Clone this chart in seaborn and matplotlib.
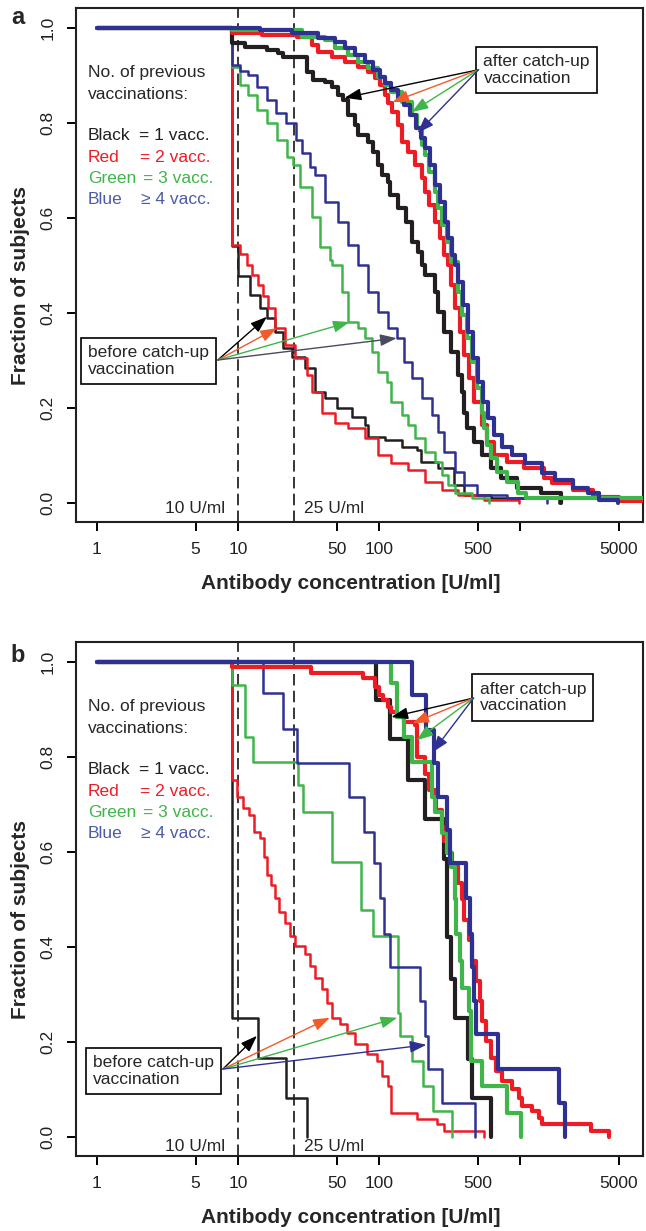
import matplotlib
matplotlib.use("Agg")
import matplotlib.pyplot as plt
from matplotlib.ticker import NullLocator
import pandas as pd
import seaborn as sns

# step curves: concentration (U/ml) where a level starts, fraction of subjects above it
# panel a
a_pre_black_x = [1, 9, 10, 12.1, 14.2, 15.9, 18.2, 20.7, 23.9, 29.6, 34.8, 41, 50.6, 63.7, 78.8, 82.6,
                 109, 144, 186, 199, 259, 340, 400, 623, 1890]
a_pre_black_y = [1.0, 0.54, 0.478, 0.438, 0.41, 0.389, 0.36, 0.326, 0.307, 0.284, 0.234, 0.221, 0.2, 0.181,
                 0.164, 0.139, 0.133, 0.118, 0.112, 0.086, 0.074, 0.038, 0.017, 0.01, 0.0]
a_pre_red_x = [1, 9, 10.3, 11.5, 12.5, 13.8, 15.0, 16.2, 18.2, 21.4, 25.2, 30.6, 33.2, 39.1, 48.3, 59.7,
               78.8, 97.5, 122, 159, 210, 277, 359, 557, 986]
a_pre_red_y = [1.0, 0.543, 0.524, 0.50, 0.48, 0.459, 0.435, 0.41, 0.368, 0.333, 0.305, 0.269, 0.234, 0.19,
               0.168, 0.158, 0.137, 0.101, 0.084, 0.069, 0.044, 0.027, 0.017, 0.006, 0.0]
a_pre_green_x = [1, 9, 10.3, 11.7, 13.6, 16.0, 18.8, 22.1, 24.4, 27.3, 33.2, 37.9, 44.6, 46, 54.2, 59.7,
                 70.3, 78.8, 88.3, 97.5, 113, 122, 144, 159, 178, 210, 247, 277, 305, 342, 451, 604]
a_pre_green_y = [1.0, 0.918, 0.88, 0.859, 0.827, 0.80, 0.764, 0.728, 0.712, 0.665, 0.602, 0.539, 0.512, 0.50,
                 0.444, 0.381, 0.368, 0.347, 0.318, 0.276, 0.255, 0.213, 0.185, 0.164, 0.137, 0.107, 0.086,
                 0.059, 0.038, 0.021, 0.01, 0.0]
a_pre_blue_x = [1, 9, 10.3, 11.8, 13.6, 15.9, 18.6, 21.9, 25.6, 28.2, 32.2, 34.9, 41, 50.8, 59.7, 70.3,
                82.8, 97.5, 115, 133, 151, 170, 200, 235, 259, 290, 342, 402, 497, 810, 1555]
a_pre_blue_y = [1.0, 0.922, 0.91, 0.90, 0.876, 0.848, 0.821, 0.80, 0.764, 0.737, 0.707, 0.69, 0.634, 0.592,
                0.543, 0.50, 0.444, 0.402, 0.368, 0.347, 0.297, 0.263, 0.221, 0.185, 0.149, 0.107, 0.065,
                0.038, 0.017, 0.01, 0.0]
a_post_black_x = [1, 9, 11.2, 16, 19.1, 20.7, 30.6, 34, 41, 46, 50.8, 55.1, 59.7, 67, 70.3, 82.8, 89.8,
                  97.5, 104, 115, 119, 135, 156, 170, 187, 200, 210, 247, 259, 290, 325, 359, 383, 402,
                  422, 473, 531, 624, 735, 953, 1410, 1950]
a_post_black_y = [1.0, 0.968, 0.96, 0.954, 0.947, 0.939, 0.907, 0.89, 0.886, 0.876, 0.859, 0.848, 0.817,
                  0.796, 0.775, 0.76, 0.739, 0.712, 0.69, 0.676, 0.648, 0.621, 0.592, 0.549, 0.528, 0.50,
                  0.48, 0.444, 0.402, 0.36, 0.318, 0.269, 0.234, 0.19, 0.158, 0.128, 0.101, 0.074, 0.053,
                  0.032, 0.021, 0.0]
a_post_red_x = [1, 9, 14.7, 26, 33.2, 36.6, 46, 56.9, 70.3, 82.8, 92.7, 101, 109, 115, 124, 135, 146, 159,
                178, 200, 210, 227, 247, 268, 290, 305, 325, 342, 371, 402, 436, 473, 531, 585, 651, 810,
                1070, 1480, 1690, 2350, 3270, 5030, 9000]
a_post_red_y = [1.0, 0.989, 0.985, 0.981, 0.964, 0.949, 0.939, 0.928, 0.918, 0.907, 0.895, 0.88, 0.859,
                0.842, 0.823, 0.796, 0.76, 0.739, 0.712, 0.684, 0.655, 0.627, 0.592, 0.558, 0.522, 0.50,
                0.459, 0.41, 0.36, 0.312, 0.263, 0.213, 0.164, 0.128, 0.101, 0.086, 0.074, 0.053, 0.042,
                0.027, 0.013, 0.004, 0.004]
a_post_green_x = [1, 9, 28.2, 41, 48.3, 59.7, 70.3, 82.8, 97.5, 109, 122, 144, 170, 184, 200, 210, 227,
                  247, 259, 280, 300, 325, 359, 388, 422, 458, 497, 531, 557, 585, 624, 686, 810, 960,
                  1100, 9000]
a_post_green_y = [1.0, 0.996, 0.981, 0.975, 0.958, 0.943, 0.928, 0.916, 0.897, 0.88, 0.865, 0.844, 0.817,
                  0.789, 0.754, 0.733, 0.697, 0.655, 0.621, 0.585, 0.549, 0.507, 0.444, 0.396, 0.347,
                  0.297, 0.242, 0.19, 0.158, 0.122, 0.095, 0.065, 0.044, 0.02, 0.01, 0.01]
a_post_blue_x = [1, 14.2, 23.9, 36.6, 48.3, 56.9, 67, 78.8, 89.8, 101, 109, 122, 135, 151, 166, 182, 197,
                 212, 229, 249, 270, 292, 307, 327, 344, 361, 390, 424, 460, 500, 540, 590, 655, 740, 870,
                 1080, 1420, 1750, 2350, 3000, 3600, 4900]
a_post_blue_y = [1.0, 0.996, 0.989, 0.979, 0.97, 0.958, 0.943, 0.928, 0.912, 0.897, 0.884, 0.869, 0.853,
                 0.838, 0.817, 0.789, 0.768, 0.747, 0.712, 0.669, 0.634, 0.592, 0.558, 0.522, 0.50, 0.465,
                 0.417, 0.36, 0.305, 0.255, 0.213, 0.179, 0.143, 0.118, 0.101, 0.084, 0.063, 0.048, 0.032,
                 0.021, 0.006, 0.0]

# panel b
b_pre_black_x = [1, 9, 13.8, 21.8, 30.6]
b_pre_black_y = [1.0, 0.251, 0.167, 0.082, 0.0]
b_pre_red_x = [1, 9, 9.9, 10.8, 12.0, 12.9, 14.2, 15.2, 15.9, 17.2, 18.2, 19.5, 21.4, 23.2, 25.2, 29.6,
               32.2, 34.9, 39.1, 42.4, 46, 52.5, 58.8, 67, 81.4, 95.9, 104, 115, 122, 184, 255, 290, 557]
b_pre_red_y = [1.0, 0.751, 0.715, 0.692, 0.677, 0.641, 0.629, 0.589, 0.551, 0.53, 0.504, 0.473, 0.451,
               0.424, 0.403, 0.386, 0.361, 0.335, 0.312, 0.283, 0.251, 0.238, 0.219, 0.196, 0.175, 0.160,
               0.129, 0.108, 0.051, 0.038, 0.027, 0.013, 0.0]
b_pre_green_x = [1, 9, 11.2, 12.8, 26.5, 28.7, 46, 73.9, 89.8, 136, 141, 170, 203, 239, 330]
b_pre_green_y = [1.0, 0.951, 0.842, 0.789, 0.741, 0.684, 0.578, 0.477, 0.424, 0.262, 0.213, 0.160, 0.108,
                 0.055, 0.0]
b_pre_blue_x = [1, 15.0, 20.7, 26, 60.7, 78.2, 91.2, 101, 108, 119, 193, 210, 220, 277, 481]
b_pre_blue_y = [1.0, 0.935, 0.859, 0.787, 0.715, 0.641, 0.576, 0.503, 0.428, 0.357, 0.287, 0.213, 0.143,
                0.072, 0.0]
b_post_black_x = [1, 94.3, 120, 159, 210, 290, 303, 325, 342, 429, 458, 624]
b_post_black_y = [1.0, 0.920, 0.837, 0.751, 0.669, 0.586, 0.42, 0.333, 0.251, 0.165, 0.082, 0.0]
b_post_red_x = [1, 9, 32.7, 76.3, 92.8, 99, 106, 115, 122, 133, 151, 178, 184, 210, 227, 254, 277, 290,
                305, 330, 359, 383, 402, 436, 458, 489, 514, 538, 573, 624, 675, 744, 876, 985, 1035,
                1200, 1365, 1430, 3160, 4270]
b_post_red_y = [1.0, 0.989, 0.977, 0.966, 0.947, 0.93, 0.920, 0.905, 0.895, 0.884, 0.873, 0.867, 0.80,
                0.765, 0.73, 0.688, 0.652, 0.624, 0.597, 0.57, 0.534, 0.50, 0.456, 0.414, 0.371, 0.329,
                0.287, 0.245, 0.203, 0.167, 0.139, 0.118, 0.101, 0.082, 0.065, 0.055, 0.04, 0.027, 0.013,
                0.0]
b_post_green_x = [1, 122, 133, 151, 170, 235, 247, 277, 300, 325, 342, 352, 371, 388, 436, 450, 531, 804,
                  1018]
b_post_green_y = [1.0, 0.956, 0.884, 0.842, 0.789, 0.715, 0.684, 0.639, 0.597, 0.568, 0.50, 0.428, 0.371,
                  0.314, 0.266, 0.160, 0.108, 0.051, 0.0]
b_post_blue_x = [1, 172, 213, 243, 263, 300, 315, 415, 443, 455, 466, 489, 689, 1890, 2085]
b_post_blue_y = [1.0, 0.930, 0.857, 0.787, 0.715, 0.646, 0.576, 0.504, 0.428, 0.357, 0.287, 0.217, 0.143,
                 0.072, 0.0]

# arrow targets of the "after"/"before" callouts and where the arrows start
a_after_tip_x = [56.9, 124, 170, 187]
a_after_tip_y = [0.853, 0.844, 0.823, 0.779]
a_after_from = (505, 0.912)
a_before_tip_x = [16, 18.8, 61.7, 133]
a_before_tip_y = [0.392, 0.368, 0.381, 0.347]
a_before_from = (7.18, 0.301)
b_after_tip_x = [122, 172, 184, 239]
b_after_tip_y = [0.884, 0.871, 0.835, 0.81]
b_after_from = (466, 0.924)
b_before_tip_x = [13.6, 44.6, 134, 216]
b_before_tip_y = [0.213, 0.251, 0.251, 0.194]
b_before_from = (7.8, 0.143)

thresholds = [10, 25]
threshold_labels = ["10 U/ml", "25 U/ml"]
x_ticks = [1, 5, 10, 50, 100, 500, 1000, 5000]
x_tick_labels = ["1", "5", "10", "50", "100", "500", "", "5000"]
y_ticks = [0.0, 0.2, 0.4, 0.6, 0.8, 1.0]

groups = ["black", "red", "green", "blue"]
legend_names = ["Black", "Red", "Green", "Blue"]
legend_rest = ["= 1 vacc.", "= 2 vacc.", "= 3 vacc.", "\u2265 4 vacc."]

LINE_COLORS = {"black": "#231f20", "red": "#ed1c24", "green": "#3fb54a", "blue": "#2e3192"}
TEXT_COLORS = ["#231f20", "#ed1c24", "#3fb54a", "#4d5ba6"]
ARROW_COLORS = ["#000000", "#f15a29", "#3fb54a", "#2e3192"]
LW = {"before": 1.8, "after": 3.0}
FS = 12.5

curves = {
    ("a", "before", "black"): (a_pre_black_x, a_pre_black_y),
    ("a", "before", "red"): (a_pre_red_x, a_pre_red_y),
    ("a", "before", "green"): (a_pre_green_x, a_pre_green_y),
    ("a", "before", "blue"): (a_pre_blue_x, a_pre_blue_y),
    ("a", "after", "black"): (a_post_black_x, a_post_black_y),
    ("a", "after", "red"): (a_post_red_x, a_post_red_y),
    ("a", "after", "green"): (a_post_green_x, a_post_green_y),
    ("a", "after", "blue"): (a_post_blue_x, a_post_blue_y),
    ("b", "before", "black"): (b_pre_black_x, b_pre_black_y),
    ("b", "before", "red"): (b_pre_red_x, b_pre_red_y),
    ("b", "before", "green"): (b_pre_green_x, b_pre_green_y),
    ("b", "before", "blue"): (b_pre_blue_x, b_pre_blue_y),
    ("b", "after", "black"): (b_post_black_x, b_post_black_y),
    ("b", "after", "red"): (b_post_red_x, b_post_red_y),
    ("b", "after", "green"): (b_post_green_x, b_post_green_y),
    ("b", "after", "blue"): (b_post_blue_x, b_post_blue_y),
}

rows = []
for (panel, phase, group), (xs, ys) in curves.items():
    for x, y in zip(xs, ys):
        rows.append({"panel": panel, "phase": phase, "group": group, "conc": x, "frac": y})
df = pd.DataFrame(rows)

sns.set_theme(style="ticks")
plt.rcParams["font.family"] = ["Liberation Sans", "DejaVu Sans"]


def callout(ax, text, text_pos, origin, tip_x, tip_y, colors):
    ax.text(text_pos[0], text_pos[1], text, ha="left", va="center", fontsize=FS,
            linespacing=1.15, zorder=6,
            bbox=dict(boxstyle="square,pad=0.42", fc="white", ec="black", lw=1.2))
    for tx, ty, c in zip(tip_x, tip_y, colors):
        ax.annotate("", xy=(tx, ty), xytext=origin, zorder=7,
                    arrowprops=dict(arrowstyle="-|>,head_length=0.5,head_width=0.18",
                                    color=c, lw=1.0, shrinkA=0, shrinkB=0, mutation_scale=20))


def draw_panel(ax, panel, after, before, txt_y, before_colors):
    ax.set_xscale("log")
    for phase in ["before", "after"]:
        for group in groups:
            sub = df[(df.panel == panel) & (df.phase == phase) & (df.group == group)]
            sns.lineplot(data=sub, x="conc", y="frac", ax=ax, color=LINE_COLORS[group],
                         lw=LW[phase], drawstyle="steps-post", estimator=None, sort=False,
                         legend=False, zorder=3)
    for t in thresholds:
        ax.axvline(t, color="black", lw=1.1, ls=(0, (7.5, 3.5)), zorder=2)
    ax.annotate(threshold_labels[0], xy=(thresholds[0], txt_y), xytext=(-9, 0),
                textcoords="offset points", ha="right", va="center", fontsize=FS)
    ax.annotate(threshold_labels[1], xy=(thresholds[1], txt_y), xytext=(7, 0),
                textcoords="offset points", ha="left", va="center", fontsize=FS)

    callout(ax, "after catch-up\nvaccination", *after, ARROW_COLORS)
    callout(ax, "before catch-up\nvaccination", *before, before_colors)

    ax.text(0.021, 0.875, "No. of previous", transform=ax.transAxes, fontsize=FS, va="center")
    ax.text(0.021, 0.832, "vaccinations:", transform=ax.transAxes, fontsize=FS, va="center")
    rest_x = [0.111, 0.113, 0.118, 0.115]
    for i in range(4):
        yy = 0.751 - i * 0.041
        ax.text(0.021, yy, legend_names[i], transform=ax.transAxes, fontsize=FS,
                va="center", color=TEXT_COLORS[i])
        ax.text(rest_x[i], yy, legend_rest[i], transform=ax.transAxes, fontsize=FS,
                va="center", color=TEXT_COLORS[i])

    ax.set_xlim(0.71, 7400)
    ax.set_ylim(-0.04, 1.042)
    ax.set_xticks(x_ticks)
    ax.set_xticklabels(x_tick_labels)
    ax.xaxis.set_minor_locator(NullLocator())
    ax.set_yticks(y_ticks)
    ax.set_yticklabels([f"{v:.1f}" for v in y_ticks], rotation=90, va="center")
    ax.tick_params(axis="both", length=6.5, width=1.4, labelsize=FS, color="black",
                   labelcolor="#231f20")
    ax.tick_params(axis="x", pad=8)
    ax.tick_params(axis="y", pad=8)
    for sp in ax.spines.values():
        sp.set_linewidth(1.5)
        sp.set_color("#231f20")
    ax.set_xlabel("Antibody concentration [U/ml]", fontsize=15, fontweight="bold")
    ax.set_ylabel("Fraction of subjects", fontsize=15, fontweight="bold")
    ax.xaxis.set_label_coords(0.485, -0.101)
    ax.yaxis.set_label_coords(-0.082, 0.46)


fig = plt.figure(figsize=(6.46, 12.31), dpi=100)
ax_a = fig.add_axes([76 / 646, 1 - 522 / 1231, 567 / 646, 514 / 1231])
ax_b = fig.add_axes([76 / 646, 1 - 1156 / 1231, 567 / 646, 514 / 1231])

draw_panel(ax_a, "a",
           ((548, 0.912), a_after_from, a_after_tip_x, a_after_tip_y),
           ((0.863, 0.299), a_before_from, a_before_tip_x, a_before_tip_y),
           -0.011, ["#000000", "#f15a29", "#3fb54a", "#4a4a60"])
draw_panel(ax_b, "b",
           ((514, 0.925), b_after_from, b_after_tip_x, b_after_tip_y),
           ((0.937, 0.139), b_before_from, b_before_tip_x, b_before_tip_y),
           -0.02, ARROW_COLORS)

fig.text(18 / 646, 1 - 18 / 1231, "a", fontsize=17, fontweight="bold", ha="center", va="center")
fig.text(18 / 646, 1 - 656 / 1231, "b", fontsize=17, fontweight="bold", ha="center", va="center")

fig.savefig("out.png", dpi=100)
plt.close(fig)
